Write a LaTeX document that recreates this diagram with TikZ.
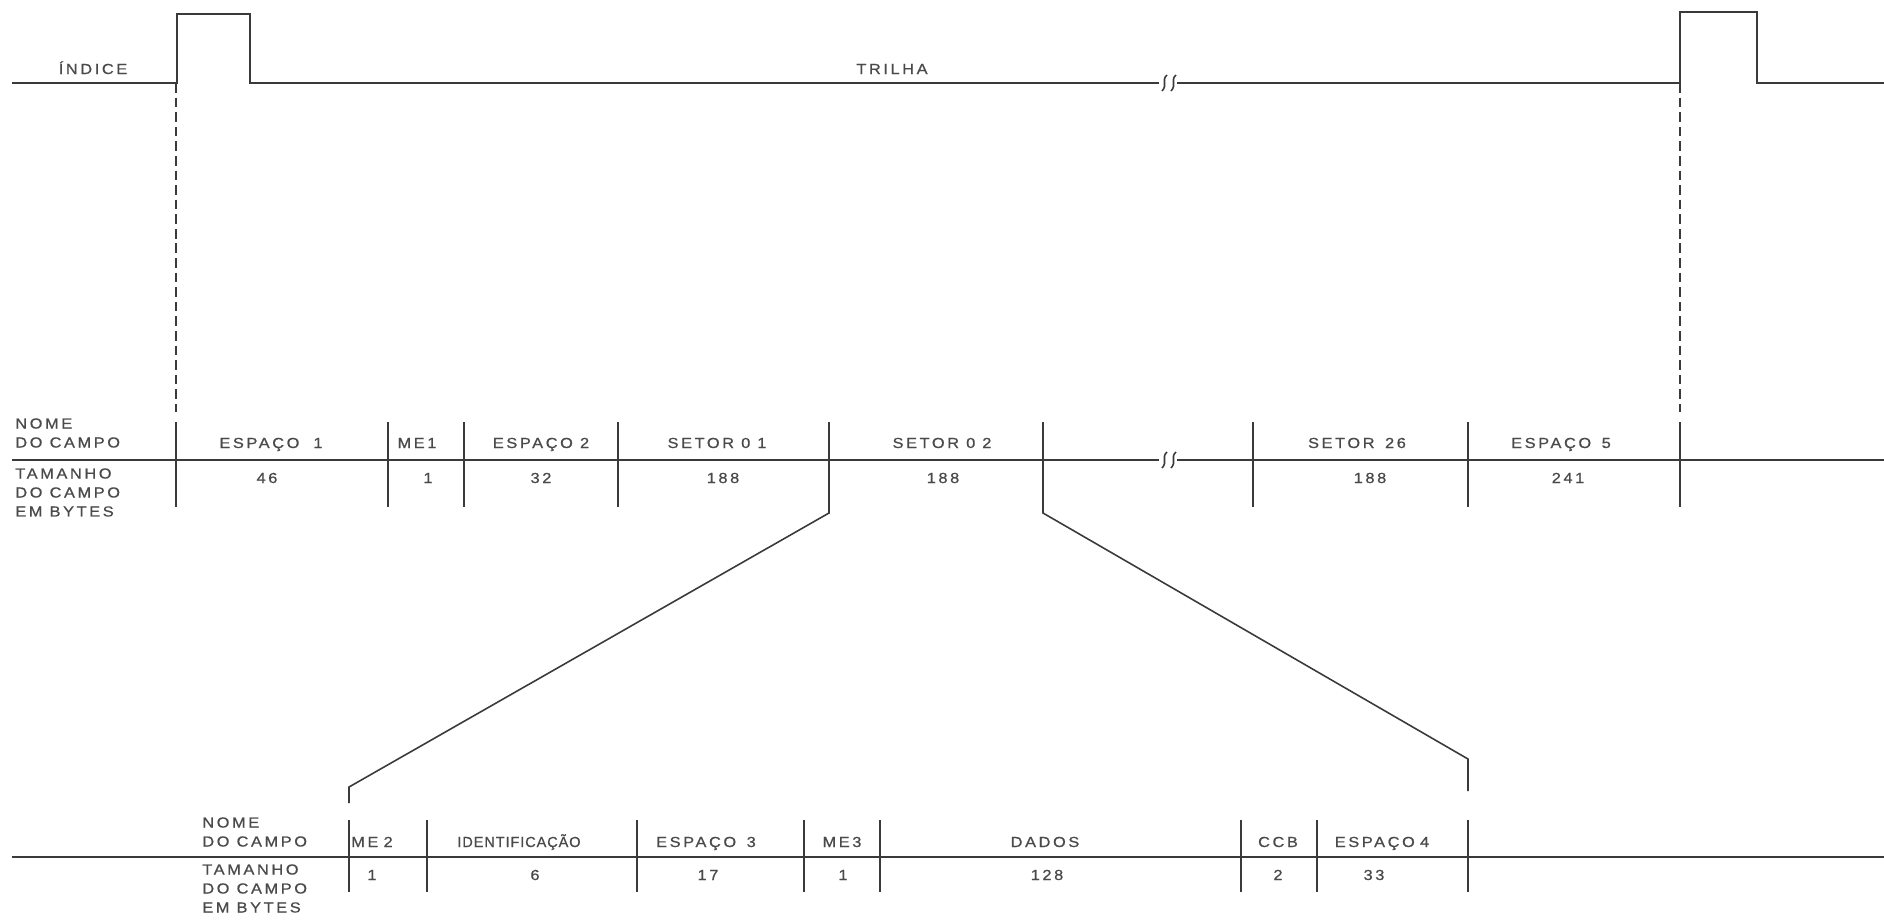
\documentclass[tikz,border=0pt]{standalone}
\usepackage{fontspec}
\usetikzlibrary{positioning}
\newfontfamily\letreiro[LetterSpace=18, FakeStretch=1.12, FakeBold=0.8]{Liberation Sans}
\newfontfamily\letreiroestreito[LetterSpace=6, FakeBold=0.8]{Liberation Sans}
\definecolor{tinta}{HTML}{3A3A3A}
\definecolor{grafite}{HTML}{4A4A4A}

\begin{document}
\begin{tikzpicture}[x=0.02cm, y=-0.02cm,
    traco/.style={line width=0.9pt, draw=tinta},
    pontilhado/.style={traco, dash pattern=on 5.5pt off 2.8pt},
    campo/.style={font=\fontsize{8.3}{10.8}\selectfont\letreiro, text=grafite, inner sep=0pt, anchor=base},
    estreito/.style={campo, font=\fontsize{8.3}{10.8}\selectfont\letreiroestreito},
    legenda/.style={campo, anchor=north west, align=left},
]
\useasboundingbox (0,0) rectangle (1884,921);

% sinal de indice sobre a trilha
\draw[traco] (12,83) -- (177,83) -- (177,14) -- (250,14) -- (250,83) -- (1159,83);
\draw[traco] (1177,83) -- (1680,83) -- (1680,12) -- (1757,12) -- (1757,83) -- (1884,83);
\node[campo] (indice) at (93,74) {ÍNDICE};
\node[campo] (trilha) at (892,74) {TRILHA};
\draw[pontilhado] (176,83) -- (176,412);
\draw[pontilhado] (1680,83) -- (1680,412);

% formato da trilha
\draw[traco] (12,460) -- (1159,460);
\draw[traco] (1177,460) -- (1884,460);
\foreach \y in {83,460} {
  \draw[traco] (1167,\y-8) .. controls (1161,\y-3) and (1168,\y+2) .. (1162,\y+8);
  \draw[traco] (1176,\y-8) .. controls (1170,\y-3) and (1177,\y+2) .. (1171,\y+8);
}
\node[legenda] (nome1) at (15,418) {NOME\\DO CAMPO};
\node[legenda] (tam1) at (15,468) {TAMANHO\\DO CAMPO\\EM BYTES};
\foreach \x in {176,388,464,618,1253,1468,1680}
  \draw[traco] (\x,422) -- (\x,507);
\foreach \x/\nome/\xv/\tam in {271/{ESPAÇO\hspace{8pt}1}/267/46, 417/ME1/428/1, 541/ESPAÇO 2/541/32,
    717/{SETOR 0\hspace{4pt}1}/723/188, 942/{SETOR 0\hspace{4pt}2}/943/188, 1357/{SETOR\hspace{6pt}26}/1370/188,
    1561/{ESPAÇO\hspace{6pt}5}/1568/241} {
  \node[campo] at (\x,448) {\nome};
  \node[campo] at (\xv,483) {\tam};
}

% ampliacao do setor 02
\coordinate (s02esq) at (829,513);
\coordinate (s02dir) at (1043,513);
\coordinate (me2) at (349,787);
\coordinate (esp4) at (1468,759);
\draw[traco] (829,422) -- (s02esq) -- (me2) -- ++(0,16);
\draw[traco] (1043,422) -- (s02dir) -- (esp4) -- ++(0,32);

% formato do setor
\draw[traco] (12,857) -- (1884,857);
\node[legenda] (nome2) at (202,817) {NOME\\DO CAMPO};
\node[legenda] (tam2) at (202,864) {TAMANHO\\DO CAMPO\\EM BYTES};
\foreach \x in {349,427,637,804,880,1241,1317,1468}
  \draw[traco] (\x,820) -- (\x,892);
\foreach \x/\nome/\xv/\tam in {372/{ME\hspace{3pt}2}/372/1, 706/{ESPAÇO\hspace{6pt}3}/708/17, 842/ME3/843/1,
    1045/DADOS/1047/128, 1278/CCB/1278/2, 1382/{ESPAÇO\hspace{3pt}4}/1374/33} {
  \node[campo] at (\x,847) {\nome};
  \node[campo] at (\xv,880) {\tam};
}
\node[estreito] (ident) at (519,847) {IDENTIFICAÇÃO};
\node[campo] (ident6) at (535,880) {6};

\end{tikzpicture}
\end{document}
